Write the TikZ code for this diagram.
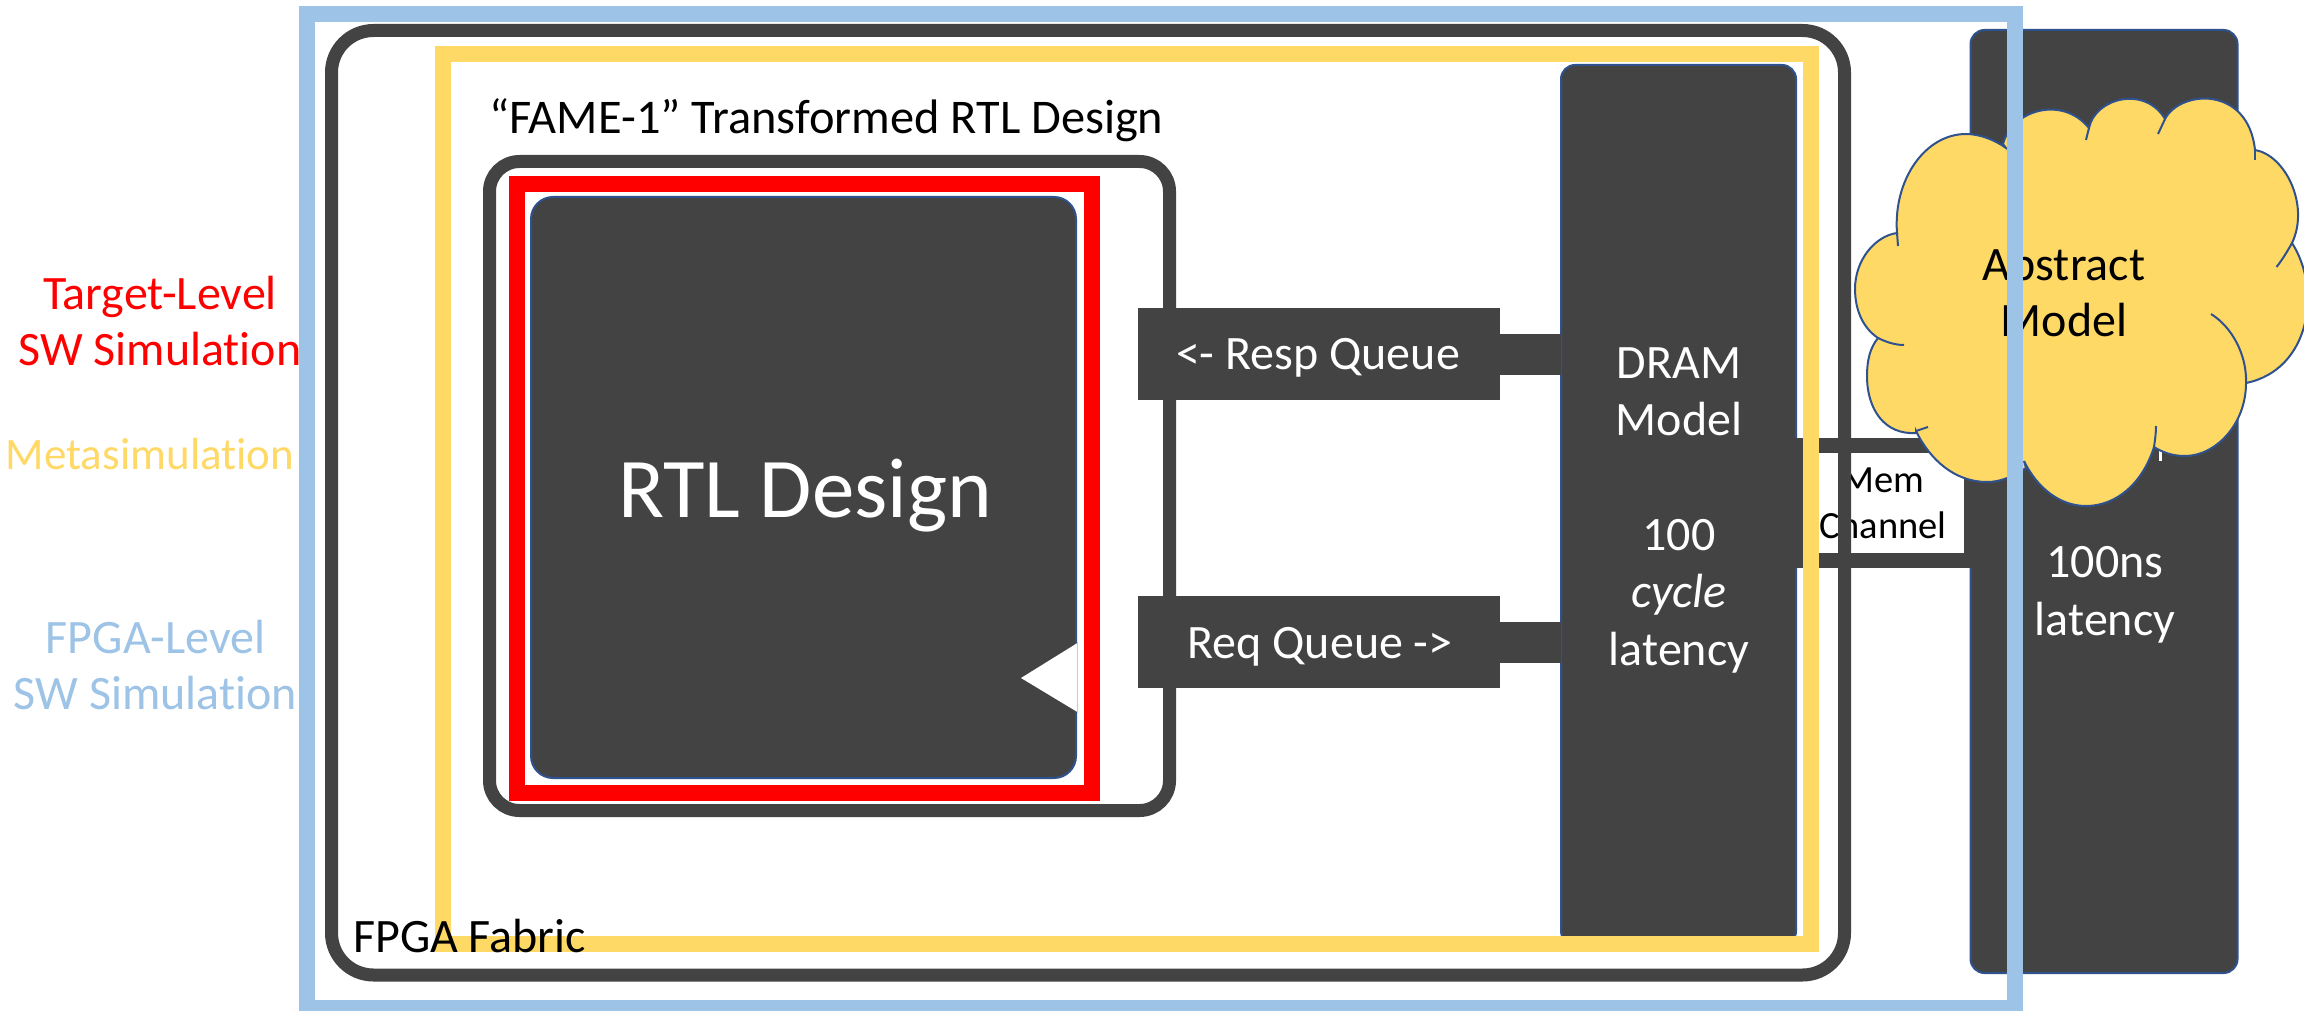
\documentclass[tikz,border=0pt]{standalone}
\usepackage{fontspec}
\setmainfont{Carlito}[Ligatures=NoCommon]
\definecolor{darkbox}{HTML}{434343}
\definecolor{edgeblue}{HTML}{2F528F}
\definecolor{skyblue}{HTML}{9DC3E6}
\definecolor{gold}{HTML}{FFD966}
\newcommand{\fs}[2]{\fontsize{#1}{#2}\selectfont}
\tikzset{
  x=1pt,y=-1pt,
  frame/.style={rectangle,inner sep=0pt,outer sep=0pt,fill=none},
  solidbox/.style={frame,fill=darkbox,draw=edgeblue,line width=2pt,rounded corners=14pt,text=white},
  label/.style={inner sep=0pt,align=center,anchor=base},
  barbox/.style={frame,fill=darkbox},
  bar/.style={draw=darkbox,line width=41pt},
  cloudedge/.style={draw=edgeblue,line width=2pt},
}
\begin{document}
\begin{tikzpicture}
\path[use as bounding box,clip] (0,0) rectangle (2304,1011);
\fill[white] (0,0) rectangle (2304,1011);
% far-right box
\node[solidbox,minimum width=267pt,minimum height=943pt] (phys) at (2104,501.5) {};
\node[label,text=white,font=\fs{48}{58}] (physlat) at (2105,635) {100ns\\latency};
% DRAM
\node[solidbox,minimum width=235pt,minimum height=880pt] (dram) at (1678.5,505) {};
\node[label,text=white,font=\fs{48}{57.4}] (dramtxt) at (1679,665) {DRAM\\Model\\[57.4pt]100\\\textit{cycle}\\latency};
% memory channel
\node[frame,draw=darkbox,fill=white,line width=15pt,minimum width=176pt,minimum height=115pt] (memch) at (1883.5,503) {};
\node[label,text=black,font=\fs{38.5}{46}] (memtxt) at (1883,538) {Mem\\Channel};
% FPGA outline
\node[frame,draw=darkbox,line width=13pt,rounded corners=42pt,minimum width=1513pt,minimum height=944.5pt] (fpga) at (1088,502.75) {};
% metasimulation frame
\node[frame,draw=gold,line width=16pt,minimum width=1367.5pt,minimum height=889.5pt] (meta) at (1126.75,499.25) {};
% FAME box
\node[frame,draw=darkbox,line width=13pt,rounded corners=30pt,minimum width=680pt,minimum height=649pt] (fame) at (829.5,486) {};
\node[frame,draw=red,line width=16pt,minimum width=575.5pt,minimum height=609pt] (target) at (804.25,488.5) {};
\node[solidbox,rounded corners=22pt,minimum width=545pt,minimum height=581pt] (rtl) at (803.5,487.5) {};
\node[label,text=white,font=\fs{85}{100}] (rtltxt) at (805,517) {RTL Design};
\fill[white] (1079,642) -- (1021,678) -- (1079,713) -- cycle;
\draw[edgeblue!30,line width=1pt] (1077,642) -- (1077,713);
% queues
\node[barbox,minimum width=362pt,minimum height=91.5pt] (respq) at (1319,354) {};
\node[barbox,minimum width=362pt,minimum height=92pt] (reqq) at (1319,642) {};
\node[label,text=white,font=\fs{48}{58}] (resptxt) at (1318,369) {<- Resp Queue};
\node[label,text=white,font=\fs{48}{58}] (reqtxt) at (1320,658) {Req Queue ->};
\draw[bar] (respq.east) -- (dram.west |- respq.east);
\draw[bar] (reqq.east) -- (dram.west |- reqq.east);
% texts
\node[label,anchor=base west,text=black,font=\fs{48.4}{58}] (fametxt) at (489,134) {“FAME-1” Transformed RTL Design};
\node[label,anchor=base west,text=black,font=\fs{48}{58}] (fabric) at (353,952) {FPGA Fabric};
% left labels
\node[label,text=red,font=\fs{48}{56}] (tgt) at (160,365) {Target-Level\\SW Simulation};
\node[label,text=gold,font=\fs{45}{56}] (metal) at (150,469) {Metasimulation};
\node[label,text=skyblue,font=\fs{48}{56}] (fpgal) at (155.5,709) {FPGA-Level\\SW Simulation};
% hidden letter tip
\fill[white] (2159,447) rectangle (2161.5,461);
% cloud
\path[fill=gold,cloudedge]
  (1897,233) .. controls (1893,180) and (1925,134) .. (1966,134)
  .. controls (1980,134) and (1995,140) .. (2006,148)
  -- (2003,144) .. controls (2012,110) and (2062,95) .. (2089,128)
  .. controls (2095,98) and (2145,85) .. (2165,119)
  .. controls (2180,90) and (2248,85) .. (2255,150)
  .. controls (2285,155) and (2310,205) .. (2292,243)
  .. controls (2322,290) and (2310,370) .. (2246,383)
  .. controls (2246,425) and (2215,456) .. (2185,456)
  .. controls (2172,456) and (2162,452) .. (2154,447)
  .. controls (2142,485) and (2115,506) .. (2086,506)
  .. controls (2060,506) and (2037,488) .. (2024,461)
  -- (2026,468) .. controls (2012,477) and (2000,482) .. (1987,482)
  .. controls (1955,482) and (1930,460) .. (1916,431)
  -- (1916,433) .. controls (1885,435) and (1867,410) .. (1867,376)
  .. controls (1867,360) and (1870,348) .. (1878,338)
  .. controls (1863,328) and (1855,310) .. (1855,289)
  .. controls (1855,260) and (1875,236) .. (1897,233) -- cycle;
\draw[cloudedge] (1897,233) -- (1898,246);
\draw[cloudedge] (2089,128) -- (2086,140);
\draw[cloudedge] (2165,119) -- (2158,134);
\draw[cloudedge] (2255,150) -- (2255,160);
\draw[cloudedge] (2292,243) .. controls (2287,252) and (2282,260) .. (2276.5,267);
\draw[cloudedge] (2211,314) .. controls (2232,327) and (2247,355) .. (2246,383);
\draw[cloudedge] (2156,426) .. controls (2156,433) and (2155,440) .. (2154,447);
\draw[cloudedge] (1916,431) -- (1928,427);
\draw[cloudedge] (1878,338) .. controls (1886,342) and (1895,345) .. (1904,345);
\node[label,text=black,font=\fs{48}{56}] (abs) at (2064,336) {Abstract\\Model};
% FPGA-level frame
\node[frame,draw=skyblue,line width=16pt,minimum width=1708pt,minimum height=994pt] (swsim) at (1161,511) {};
\end{tikzpicture}
\end{document}
